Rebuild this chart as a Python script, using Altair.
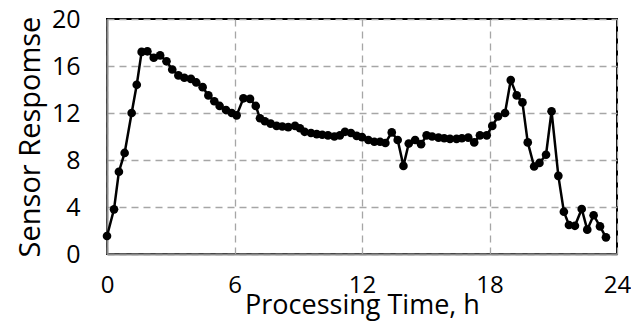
import altair as alt
import pandas as pd

time_h = [0, 0.33, 0.56, 0.83, 1.16, 1.4, 1.63, 1.9, 2.2, 2.5, 2.8, 3.07, 3.36, 3.64, 3.95,
          4.2, 4.5, 4.77, 5.05, 5.3, 5.6, 5.87, 6.1, 6.42, 6.73, 7.0, 7.2, 7.43, 7.7, 7.98,
          8.25, 8.53, 8.85, 9.08, 9.3, 9.6, 9.87, 10.13, 10.4, 10.7, 10.96, 11.2, 11.48, 11.75,
          12.0, 12.3, 12.58, 12.85, 13.1, 13.4, 13.68, 13.95, 14.2, 14.5, 14.78, 15.04, 15.3,
          15.6, 15.87, 16.14, 16.45, 16.7, 17.0, 17.28, 17.55, 17.87, 18.13, 18.4, 18.73, 19.0,
          19.28, 19.55, 19.8, 20.1, 20.35, 20.66, 20.92, 21.24, 21.5, 21.74, 22.02, 22.34, 22.6,
          22.9, 23.2, 23.48]
response = [1.53, 3.8, 7.0, 8.6, 12.0, 14.4, 17.2, 17.25, 16.7, 16.9, 16.4, 15.7, 15.2, 15.0, 14.9,
            14.6, 14.2, 13.5, 13.0, 12.6, 12.25, 12.0, 11.8, 13.25, 13.2, 12.6, 11.55, 11.3, 11.1, 10.9,
            10.85, 10.8, 10.9, 10.7, 10.4, 10.3, 10.2, 10.15, 10.1, 10.0, 10.1, 10.4, 10.3, 10.05,
            9.95, 9.7, 9.55, 9.55, 9.45, 10.35, 9.7, 7.5, 9.4, 9.7, 9.35, 10.1, 10.0,
            9.9, 9.85, 9.8, 9.8, 9.85, 9.9, 9.5, 10.1, 10.1, 10.9, 11.7, 12.0, 14.8,
            13.5, 12.9, 9.5, 7.45, 7.75, 8.45, 12.15, 6.65, 3.6, 2.47, 2.4, 3.83, 2.07,
            3.3, 2.35, 1.42]
x_ticks = [0, 6, 12, 18, 24]
y_ticks = [0, 4, 8, 12, 16, 20]

df = pd.DataFrame({"t": time_h, "r": response})
FONT = "Open Sans"

common = dict(grid=True, gridDash=[7, 5], gridColor="#a6a6a6", gridWidth=1.3,
              ticks=False, domain=True, domainColor="#8c8c8c", domainWidth=2,
              labelColor="#000", titleColor="#000", labelFont=FONT, titleFont=FONT,
              titleFontWeight="normal", labelFlush=False, labelOverlap=False)

base = alt.Chart(df).encode(
    x=alt.X("t:Q", scale=alt.Scale(domain=[0, 24], nice=False),
            axis=alt.Axis(values=x_ticks, title="Processing Time, h",
                          labelPadding=19, labelFontSize=24,
                          titlePadding=-5, titleFontSize=27, **common)),
    y=alt.Y("r:Q", scale=alt.Scale(domain=[0, 20], nice=False),
            axis=alt.Axis(values=y_ticks, title="Sensor Respomse",
                          labelPadding=27, labelFontSize=25,
                          titlePadding=6, titleFontSize=29, **common)),
)

line = base.mark_line(color="#000", strokeWidth=2.5)
pts = base.mark_circle(color="#000", opacity=1, size=75)

chart = (line + pts).properties(
    width=510, height=235,
    autosize=alt.AutoSizeParams(type="none"),
    padding={"left": 99, "top": 11, "right": 14, "bottom": 70},
).configure_view(stroke="#000", strokeWidth=2)

chart.save("out.html", embed_options={"renderer": "svg", "actions": False})
